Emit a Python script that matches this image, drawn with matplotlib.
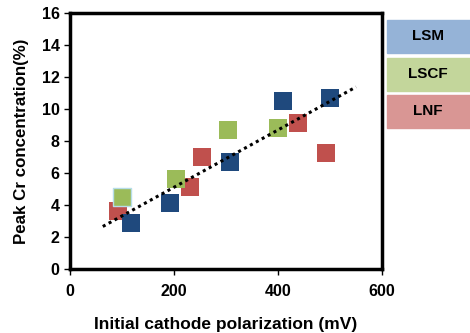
import numpy as np
import matplotlib
matplotlib.use('Agg')
import matplotlib.pyplot as plt
from matplotlib.patches import Rectangle

plt.rcParams['font.family'] = ['Liberation Sans', 'DejaVu Sans']

# --- veri ---
lsm_x = [117, 193, 308, 410, 499]
lsm_y = [2.9, 4.1, 6.7, 10.5, 10.7]
lscf_x = [100, 204, 304, 400]
lscf_y = [4.5, 5.6, 8.7, 8.8]
lnf_x = [93, 231, 254, 439, 493]
lnf_y = [3.6, 5.1, 7.0, 9.1, 7.25]

series_names = ['LSM', 'LSCF', 'LNF']
marker_colors = ['#1F497D', '#9BBB59', '#C0504D']
legend_colors = ['#95B3D7', '#C3D69B', '#D99694']

# trend line endpoints
trend_x = [63, 550]
trend_y = [2.66, 11.38]

fig = plt.figure(figsize=(4.7, 3.33), dpi=100)
ax = fig.add_axes([0.149, 0.192, 0.664, 0.769])

ax.scatter(lnf_x, lnf_y, s=150, marker='s', color=marker_colors[2], linewidths=0, zorder=2)
ax.scatter(lsm_x, lsm_y, s=150, marker='s', color=marker_colors[0], linewidths=0, zorder=2)
ax.scatter(lscf_x, lscf_y, s=150, marker='s', color=marker_colors[1], linewidths=0, zorder=2)
ax.scatter(lscf_x[:1], lscf_y[:1], s=150, marker='s', color=marker_colors[1],
           edgecolors='#B7DDE8', linewidths=1, zorder=3)
ax.plot(trend_x, trend_y, color='black', linestyle=(0, (1, 1.2)), linewidth=2.2, zorder=4)

ax.set_xlim(0, 600)
ax.set_ylim(0, 16)
ax.set_xticks([0, 200, 400, 600])
ax.set_yticks(range(0, 17, 2))
for s in ax.spines.values():
    s.set_linewidth(2.5)
ax.tick_params(direction='out', length=4, width=1, labelsize=11.5)
ax.tick_params(axis='x', pad=7)
for lab in ax.get_xticklabels() + ax.get_yticklabels():
    lab.set_fontweight('bold')
ax.set_xlabel('Initial cathode polarization (mV)', fontsize=12.5, fontweight='bold', labelpad=13)
ax.set_ylabel('Peak Cr concentration(%)', fontsize=12.2, fontweight='bold', labelpad=9)

# legend kutulari
box_top = [313, 275, 238]
for name, c, top in zip(series_names, legend_colors, box_top):
    fig.patches.append(Rectangle((387 / 470, (top - 33) / 333), 83 / 470, 33 / 333,
                                 transform=fig.transFigure, color=c, zorder=1))
    fig.text(428 / 470, (top - 16.5) / 333, name, ha='center', va='center',
             fontsize=11, fontweight='bold')

fig.savefig('out.png', dpi=100)
